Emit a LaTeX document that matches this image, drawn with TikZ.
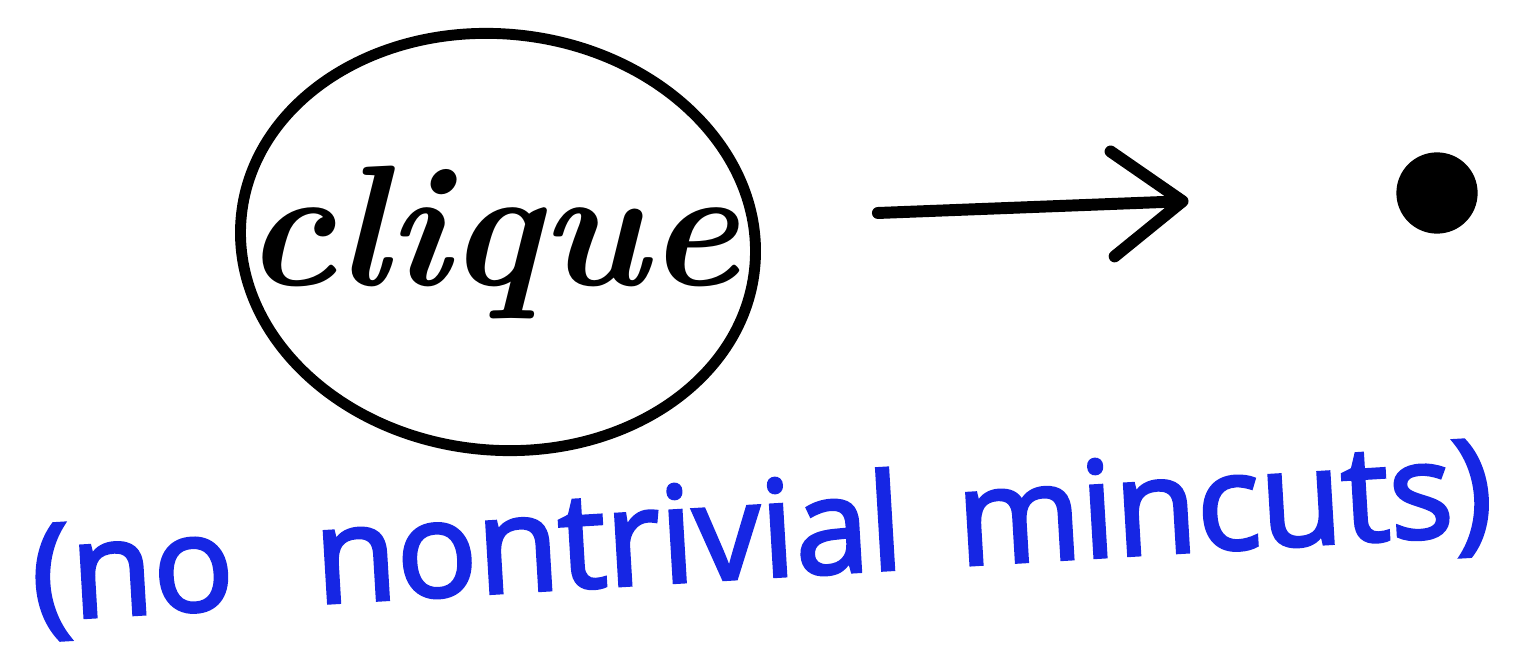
\documentclass[tikz,border=0pt]{standalone}
\usepackage{fontspec}
\usepackage{xcolor}
\usepackage{tikz}
\usetikzlibrary{arrows.meta,positioning,shapes.geometric}
\newfontfamily\handfont[FakeBold=2.5]{Open Sans}
\definecolor{penblue}{RGB}{22,38,228}

\begin{document}
\begin{tikzpicture}[
    ring/.style={draw=black, ellipse, line width=3.1pt, minimum width=51.6mm,
                 minimum height=41.6mm, inner sep=0pt},
    cliquetext/.style={font=\fontsize{49}{56}\selectfont\bfseries\itshape, inner sep=0pt},
    vertex/.style={circle, draw=black, fill=black, line width=1.5pt,
                   minimum size=7.6mm, inner sep=0pt},
    bigarrow/.style={-{Straight Barb[length=7mm,width=10.5mm,round]}, draw=black,
                     line width=3.4pt, line cap=round},
    caption/.style={font=\handfont\fontsize{38}{44}\selectfont, text=penblue,
                    inner sep=0pt, rotate=3.4}
]
\useasboundingbox (0,0) rectangle (15.27,6.49);

\node[ring, rotate=-6] (clique) at (4.98,4.07) {};
\node[cliquetext] (cliquelabel) at ([xshift=-0.6mm]clique.center) {clique};
\node[vertex] (dot) at (14.37,4.56) {};

\draw[bigarrow, shorten <=11.8mm, shorten >=20.8mm] ([yshift=5.2mm]clique.east) -- (dot.west);

\node[caption] (note) at (7.62,1.12) {(no\hspace{0.35em} nontrivial\hspace{0.15em} mincuts)};

\end{tikzpicture}
\end{document}
